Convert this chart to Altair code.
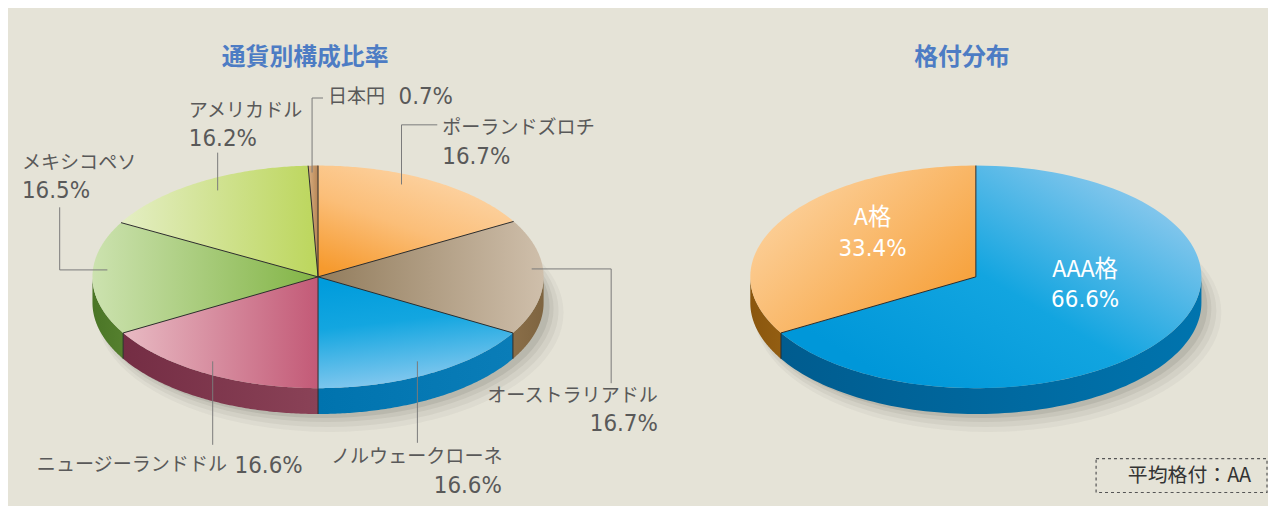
import altair as alt
import pandas as pd

# ---------------- data ----------------
currency_names = ["ポーランドズロチ", "オーストラリアドル", "ノルウェークローネ",
                  "ニュージーランドドル", "メキシコペソ", "アメリカドル", "日本円"]
currency_pct = [16.7, 16.7, 16.6, 16.6, 16.5, 16.2, 0.7]
rating_names = ["AAA格", "A格"]
rating_pct = [66.6, 33.4]
chart_titles = ["通貨別構成比率", "格付分布"]
average_rating_label = "平均格付：AA"

# ---------------- layout ----------------
W, H = 1268, 498
CX = {"L": 312, "R": 974}
CY = 269
RX, RY, DEPTH = 227, 112, 26
N = 96
FONT = "Noto Sans CJK JP"
PCT_FONT = "DejaVu Sans Condensed, sans-serif"
BG = "#E5E3D7"
TXT = "#595959"
NAME_SIZE, PCT_SIZE = 19.2, 24

xs = alt.Scale(domain=[0, W], range=[0, W], nice=False, zero=False)
ys = alt.Scale(domain=[0, H], range=[0, H], nice=False, zero=False)


def grad(stops, x1=0, y1=0, x2=1, y2=0):
    return alt.LinearGradient(
        gradient="linear", x1=x1, y1=y1, x2=x2, y2=y2,
        stops=[alt.GradientStop(offset=o, color=c) for o, c in stops])


top_style = {
    "ポーランドズロチ": grad([(0, "#FDD9AF"), (0.55, "#FBBE78"), (1, "#F69A2E")], 0.8, 0, 0.15, 1),
    "オーストラリアドル": grad([(0, "#927C5C"), (1, "#CFBFAB")]),
    "ノルウェークローネ": grad([(0, "#009CDC"), (0.4, "#13A6E0"), (1, "#8DCBF0")], 0.3, 0, 0.5, 1),
    "ニュージーランドドル": grad([(0, "#E8BAC3"), (1, "#C35A77")]),
    "メキシコペソ": grad([(0, "#CCE2AF"), (1, "#82B445")]),
    "アメリカドル": grad([(0, "#E4EEC4"), (1, "#BCD65C")]),
    "日本円": grad([(0, "#D9B083"), (1, "#B88656")]),
    "AAA格": grad([(0, "#0097D9"), (0.45, "#12A5E0"), (1, "#93CBEE")], 0.2, 0.9, 1, 0.2),
    "A格": grad([(0, "#FDD8AA"), (1, "#F69B2F")], 0, 0.1, 1, 0.9),
}
side_style = {
    "オーストラリアドル": grad([(0, "#8A6E48"), (1, "#7E6440")]),
    "ノルウェークローネ": grad([(0, "#0073AE"), (1, "#0A7DB8")]),
    "ニュージーランドドル": grad([(0, "#742D44"), (1, "#8A4257")]),
    "メキシコペソ": grad([(0, "#4A7526"), (1, "#55802E")]),
    "AAA格": grad([(0, "#005C8F"), (1, "#0074AE")]),
    "A格": grad([(0, "#8A560E"), (1, "#935E12")]),
}

slices = pd.DataFrame({
    "pie": ["L"] * len(currency_names) + ["R"] * len(rating_names),
    "name": currency_names + rating_names,
    "value": currency_pct + rating_pct,
    "ord": list(range(len(currency_names))) + list(range(len(rating_names))),
})

cx_expr = f"datum.pie == 'L' ? {CX['L']} : {CX['R']}"

base = (
    alt.Chart(slices)
    .transform_window(cum="sum(value)", groupby=["pie"],
                      sort=[alt.SortField("ord")], frame=[None, 0])
    .transform_joinaggregate(total="sum(value)", groupby=["pie"])
    .transform_calculate(a0="2*PI*(datum.cum - datum.value)/datum.total")
    .transform_calculate(a1="2*PI*datum.cum/datum.total")
    .transform_calculate(cx=cx_expr)
    .transform_calculate(cy=str(CY))
)

pos = dict(
    x=alt.X("px:Q", scale=xs, axis=None),
    y=alt.Y("py:Q", scale=ys, axis=None),
    order=alt.Order("k:Q"),
)

# top surfaces
top = (
    base.transform_calculate(k=f"sequence(0, {N + 2})")
    .transform_flatten(["k"])
    .transform_calculate(t=f"datum.a0 + (datum.a1 - datum.a0) * (datum.k - 1) / {N}")
    .transform_calculate(px=f"datum.k == 0 ? datum.cx : datum.cx + {RX} * sin(datum.t)")
    .transform_calculate(py=f"datum.k == 0 ? datum.cy : datum.cy - {RY} * cos(datum.t)")
)

# side walls (front half only)
side = (
    base.transform_calculate(c0="max(datum.a0, PI/2)")
    .transform_calculate(c1="min(datum.a1, 3*PI/2)")
    .transform_filter("datum.c1 > datum.c0")
    .transform_calculate(k=f"sequence(0, {2 * N + 2})")
    .transform_flatten(["k"])
    .transform_calculate(
        t=f"datum.k <= {N} ? datum.c0 + (datum.c1 - datum.c0) * datum.k / {N} : "
          f"datum.c1 - (datum.c1 - datum.c0) * (datum.k - {N + 1}) / {N}")
    .transform_calculate(dz=f"datum.k <= {N} ? 0 : {DEPTH}")
    .transform_calculate(px=f"datum.cx + {RX} * sin(datum.t)")
    .transform_calculate(py=f"datum.cy - {RY} * cos(datum.t) + datum.dz")
)

layers = []

# soft shadow
pies = pd.DataFrame({"pie": ["L", "R"]})
for dx, dy, grow, op in [(12, 10, 8, 0.05), (10, 8, 5, 0.07), (8, 6, 2, 0.09), (6, 4, 0, 0.12)]:
    sh = (
        alt.Chart(pies)
        .transform_calculate(cx=cx_expr)
        .transform_calculate(k=f"sequence(0, {N + 1})")
        .transform_flatten(["k"])
        .transform_calculate(t=f"2*PI*datum.k/{N}")
        .transform_calculate(px=f"datum.cx + {dx} + {RX + grow} * sin(datum.t)")
        .transform_calculate(py=f"{CY + DEPTH + dy} - {RY + grow} * cos(datum.t)")
        .mark_line(fill="#55554c", fillOpacity=op, strokeOpacity=0, strokeWidth=0)
        .encode(detail="pie:N", **pos)
    )
    layers.append(sh)

for nm, g in side_style.items():
    layers.append(
        side.transform_filter(alt.datum.name == nm)
        .mark_line(fill=g, strokeOpacity=0, strokeWidth=0)
        .encode(**pos)
    )

for nm, g in top_style.items():
    layers.append(
        top.transform_filter(alt.datum.name == nm)
        .mark_line(fill=g, strokeOpacity=0, strokeWidth=0)
        .encode(**pos)
    )

# slice borders on the top surface
edges = (
    base.transform_calculate(ex=f"datum.cx + {RX} * sin(datum.a0)")
    .transform_calculate(ey=f"datum.cy - {RY} * cos(datum.a0)")
)
layers.append(
    edges.mark_rule(color="#2b2b2b", strokeWidth=1)
    .encode(x=alt.X("cx:Q", scale=xs, axis=None), y=alt.Y("cy:Q", scale=ys, axis=None),
            x2="ex:Q", y2="ey:Q")
)
# vertical borders on the visible side
layers.append(
    edges.transform_filter("datum.a0 > PI/2 && datum.a0 < 3*PI/2")
    .transform_calculate(ey2=f"datum.ey + {DEPTH}")
    .mark_rule(color="#2b2b2b", strokeWidth=1)
    .encode(x=alt.X("ex:Q", scale=xs, axis=None), y=alt.Y("ey:Q", scale=ys, axis=None),
            y2="ey2:Q")
)

# leader lines (annotation)
leaders = pd.DataFrame([
    (306, 164, 306, 89), (306, 89, 317, 89),
    (211, 144, 211, 182),
    (52, 199, 52, 262), (52, 262, 100, 262),
    (396, 116, 396, 176), (396, 116, 432, 116),
    (527, 261, 607, 261), (607, 261, 607, 376),
    (206, 354, 206, 438),
    (412, 354, 412, 436),
], columns=["x", "y", "x2", "y2"])
layers.append(
    alt.Chart(leaders).mark_rule(color="#7a7a7a", strokeWidth=1)
    .encode(x=alt.X("x:Q", scale=xs, axis=None), y=alt.Y("y:Q", scale=ys, axis=None),
            x2="x2:Q", y2="y2:Q")
)


def pct(v):
    return f"{v:.1f}%"


cur = dict(zip(currency_names, currency_pct))
rat = dict(zip(rating_names, rating_pct))
c = currency_names
WHITE = "#FFFFFF"

labels = [
    # text, x, y, align, size, color, weight, font
    (c[6], 322, 88, "left", NAME_SIZE, TXT, "normal", FONT),
    (pct(cur[c[6]]), 393, 88, "left", PCT_SIZE, TXT, "normal", PCT_FONT),
    (c[5], 182, 102, "left", NAME_SIZE, TXT, "normal", FONT),
    (pct(cur[c[5]]), 182, 130, "left", PCT_SIZE, TXT, "normal", PCT_FONT),
    (c[4], 14, 154, "left", NAME_SIZE, TXT, "normal", FONT),
    (pct(cur[c[4]]), 14, 183, "left", PCT_SIZE, TXT, "normal", PCT_FONT),
    (c[0], 437, 119, "left", NAME_SIZE, TXT, "normal", FONT),
    (pct(cur[c[0]]), 437, 148, "left", PCT_SIZE, TXT, "normal", PCT_FONT),
    (c[1], 654, 389, "right", NAME_SIZE, TXT, "normal", FONT),
    (pct(cur[c[1]]), 654, 417, "right", PCT_SIZE, TXT, "normal", PCT_FONT),
    (c[3], 29, 458, "left", NAME_SIZE, TXT, "normal", FONT),
    (pct(cur[c[3]]), 228, 459, "left", PCT_SIZE, TXT, "normal", PCT_FONT),
    (c[2], 325, 450, "left", NAME_SIZE, TXT, "normal", FONT),
    (pct(cur[c[2]]), 497, 480, "right", PCT_SIZE, TXT, "normal", PCT_FONT),
    ("A格", 870, 210, "center", 23.5, WHITE, "normal", FONT),
    (pct(rat["A格"]), 870, 241, "center", PCT_SIZE, WHITE, "normal", PCT_FONT),
    ("AAA格", 1084, 262, "center", 23.5, WHITE, "normal", FONT),
    (pct(rat["AAA格"]), 1084, 292, "center", PCT_SIZE, WHITE, "normal", PCT_FONT),
    (average_rating_label, 1189, 469, "center", 20, "#333333", "normal", FONT),
    (chart_titles[0], 299, 49, "center", 24, "#4D7CC4", "bold", FONT),
    (chart_titles[1], 960, 49, "center", 24, "#4D7CC4", "bold", FONT),
]
lab = pd.DataFrame(labels, columns=["text", "x", "y", "align", "size", "color", "weight", "font"])
for (al, wt, fn), sub in lab.groupby(["align", "weight", "font"], sort=False):
    layers.append(
        alt.Chart(sub).mark_text(align=al, baseline="middle", font=fn, fontWeight=wt)
        .encode(x=alt.X("x:Q", scale=xs, axis=None), y=alt.Y("y:Q", scale=ys, axis=None),
                text="text:N", size=alt.Size("size:Q", scale=None),
                color=alt.Color("color:N", scale=None))
    )

# dashed box around the average rating
box = pd.DataFrame({"x": [1095], "x2": [1267], "y": [452], "y2": [486]})
layers.append(
    alt.Chart(box).mark_rect(fillOpacity=0, stroke="#555555", strokeWidth=1.2, strokeDash=[3, 3])
    .encode(x=alt.X("x:Q", scale=xs, axis=None), x2="x2:Q",
            y=alt.Y("y:Q", scale=ys, axis=None), y2="y2:Q")
)

chart = (
    alt.layer(*layers)
    .properties(width=W, height=H, padding=0, autosize="none", background=BG)
    .configure_view(strokeWidth=0)
)

chart.save("out.html", embed_options={"renderer": "svg", "actions": False})
